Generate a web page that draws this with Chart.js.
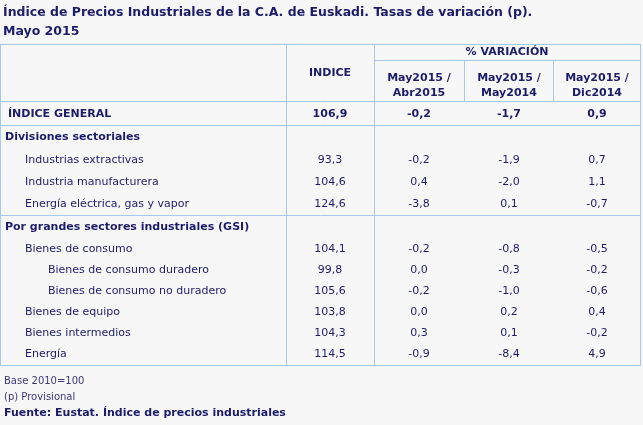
<!DOCTYPE html>
<html>
<head>
<meta charset="utf-8">
<script src="https://cdn.jsdelivr.net/npm/chart.js@4/dist/chart.umd.min.js"></script>
<style>body{margin:0;background:#f7f7f7}</style>
</head>
<body>
<canvas id="c" width="643" height="425"></canvas>
<script>
// datos de la tabla
var rowLabels = ['ÍNDICE GENERAL', 'Divisiones sectoriales', 'Industrias extractivas', 'Industria manufacturera',
    'Energía eléctrica, gas y vapor', 'Por grandes sectores industriales (GSI)', 'Bienes de consumo',
    'Bienes de consumo duradero', 'Bienes de consumo no duradero', 'Bienes de equipo', 'Bienes intermedios', 'Energía'];
var rowLevel = [0, -1, 1, 1, 1, -1, 1, 2, 2, 1, 1, 1];
var indice = ['106,9', '', '93,3', '104,6', '124,6', '', '104,1', '99,8', '105,6', '103,8', '104,3', '114,5'];
var varMes = ['-0,2', '', '-0,2', '0,4', '-3,8', '', '-0,2', '0,0', '-0,2', '0,0', '0,3', '-0,9'];
var varAnual = ['-1,7', '', '-1,9', '-2,0', '0,1', '', '-0,8', '-0,3', '-1,0', '0,2', '0,1', '-8,4'];
var varDic = ['0,9', '', '0,7', '1,1', '-0,7', '', '-0,5', '-0,2', '-0,6', '0,4', '-0,2', '4,9'];
var rowY = [114, 137, 160, 182, 204, 227, 249, 270, 291, 312, 333, 354];
var colLabels = [['May2015 /', 'Abr2015'], ['May2015 /', 'May2014'], ['May2015 /', 'Dic2014']];

var navy = '#1c1c6b';
var line = '#a9c9ea';

var tablePlugin = {
    id: 'tabla',
    beforeDraw: function (chart) {
        var ctx = chart.ctx, x = chart.scales.x, y = chart.scales.y;
        var X = function (v) { return x.getPixelForValue(v); };
        var Y = function (v) { return y.getPixelForValue(v); };
        ctx.save();
        ctx.fillStyle = '#f7f7f7';
        ctx.fillRect(0, 0, chart.width, chart.height);

        // titulo
        ctx.fillStyle = navy;
        ctx.textBaseline = 'middle';
        ctx.font = 'bold 12.5px "DejaVu Sans"';
        ctx.fillText('Índice de Precios Industriales de la C.A. de Euskadi. Tasas de variación (p).', X(3), Y(13));
        ctx.fillText('Mayo 2015', X(3), Y(32));

        // lineas
        ctx.strokeStyle = line;
        ctx.lineWidth = 1;
        function seg(x1, y1, x2, y2) {
            ctx.beginPath();
            ctx.moveTo(Math.round(X(x1)) + 0.5, Math.round(Y(y1)) + 0.5);
            ctx.lineTo(Math.round(X(x2)) + 0.5, Math.round(Y(y2)) + 0.5);
            ctx.stroke();
        }
        ctx.strokeRect(0.5, 44.5, 640, 321);
        seg(374, 60, 640, 60);
        seg(0, 101, 640, 101);
        seg(0, 125, 640, 125);
        seg(0, 215, 640, 215);
        seg(286, 44, 286, 366);
        seg(374, 44, 374, 366);
        seg(464, 60, 464, 101);
        seg(553, 60, 553, 101);

        // cabecera
        ctx.textAlign = 'center';
        ctx.font = 'bold 11px "DejaVu Sans"';
        ctx.fillText('% VARIACIÓN', X(507), Y(52));
        ctx.fillText('INDICE', X(330), Y(73));
        var cx = [419, 509, 597];
        colLabels.forEach(function (l, i) {
            ctx.fillText(l[0], X(cx[i]), Y(78));
            ctx.fillText(l[1], X(cx[i]), Y(93));
        });

        // filas
        rowLabels.forEach(function (lab, i) {
            var bold = rowLevel[i] <= 0;
            ctx.font = (bold ? 'bold ' : '') + '11px "DejaVu Sans"';
            ctx.textAlign = 'left';
            var ind = rowLevel[i] === 0 ? 8 : rowLevel[i] === -1 ? 5 : rowLevel[i] === 1 ? 25 : 48;
            ctx.fillText(lab, X(ind), Y(rowY[i]));
            ctx.textAlign = 'center';
            ctx.font = (rowLevel[i] === 0 ? 'bold ' : '') + '11px "DejaVu Sans"';
            ctx.fillText(indice[i], X(330), Y(rowY[i]));
            ctx.fillText(varMes[i], X(419), Y(rowY[i]));
            ctx.fillText(varAnual[i], X(509), Y(rowY[i]));
            ctx.fillText(varDic[i], X(597), Y(rowY[i]));
        });

        // notas
        ctx.textAlign = 'left';
        ctx.fillStyle = '#3a3a7a';
        ctx.font = '10px "DejaVu Sans"';
        ctx.fillText('Base 2010=100', X(4), Y(381));
        ctx.fillText('(p) Provisional', X(4), Y(397));
        ctx.fillStyle = navy;
        ctx.font = 'bold 11px "DejaVu Sans"';
        ctx.fillText('Fuente: Eustat. Índice de precios industriales', X(4), Y(413));
        ctx.restore();
    }
};

new Chart(document.getElementById('c').getContext('2d'), {
    type: 'scatter',
    data: { datasets: [{ data: [] }] },
    options: {
        responsive: false,
        devicePixelRatio: 1,
        animation: false,
        layout: { padding: 0 },
        plugins: { legend: { display: false }, tooltip: { enabled: false } },
        scales: {
            x: { type: 'linear', min: 0, max: 643, display: false },
            y: { type: 'linear', min: 0, max: 425, reverse: true, display: false }
        }
    },
    plugins: [tablePlugin]
});
</script>
</body>
</html>
